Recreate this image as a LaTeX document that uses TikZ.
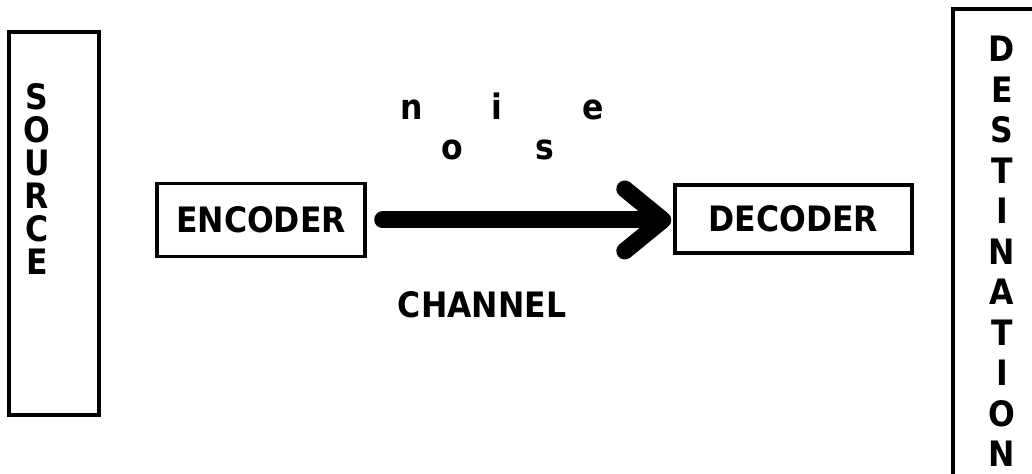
\documentclass[tikz,border=0pt]{standalone}
\usepackage{fontspec}
\setmainfont{DejaVu Sans}[FakeStretch=0.9]
\usetikzlibrary{arrows.meta}
\tikzset{
  box/.style={draw, line width=1.7pt, inner sep=0pt},
  word/.style={font=\bfseries\fontsize{17.5}{17.5}\selectfont, inner sep=0pt},
  column/.style={align=center, inner sep=0pt, font=\bfseries\fontsize{17.5}{#1}\selectfont},
  pipe/.style={line width=8.5pt, line cap=round, -{Straight Barb[length=19pt,width=31pt,round]}}
}
\begin{document}
\begin{tikzpicture}[x=0.5pt,y=-0.5pt]
  \useasboundingbox (0,0) rectangle (1032,474);
  \draw
    (54,223.5) node[box, minimum width=45pt, minimum height=191.5pt] (src){}
    (37,179.5) node[column=16.5pt] (srcname){S\\O\\U\\R\\C\\E}
    (261,220) node[box, word, minimum width=104pt, minimum height=36.5pt] (enc){ENCODER}
    (793.5,219) node[box, word, minimum width=118.5pt, minimum height=34pt] (dec){DECODER}
    (1006.5,254.5) node[box, minimum width=53.5pt, minimum height=245.5pt] (dst){}
    (1002,251.5) node[column=20.25pt] (dstname){D\\E\\S\\T\\I\\N\\A\\T\\I\\O\\N}
    (482,318) node[word, anchor=base] (chan){CHANNEL};
  % noise letters above the channel
  \draw
    (412,120) node[word, anchor=base] (n){n}
    (497,120) node[word, anchor=base] (i){i}
    (593,120) node[word, anchor=base] (e){e}
    (452,160) node[word, anchor=base] (o){o}
    (545,160) node[word, anchor=base] (s){s};
  \begin{scope}[pipe]
    \draw[shorten <=8pt, shorten >=1pt] (enc.east) to (enc.east -| dec.west);
  \end{scope}
\end{tikzpicture}
\end{document}
